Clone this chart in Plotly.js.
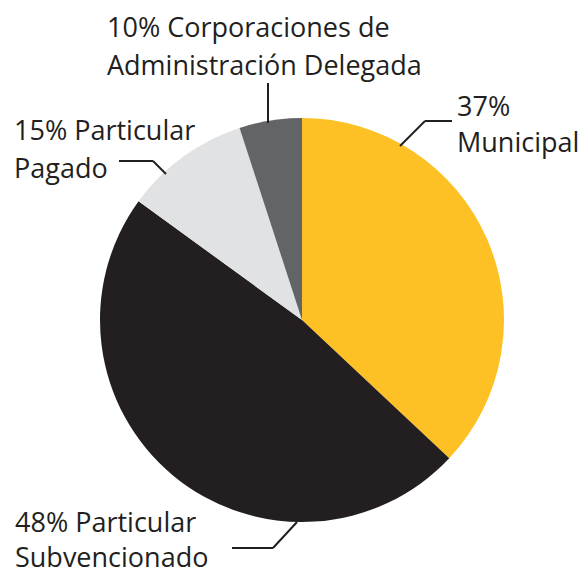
<!DOCTYPE html>
<html><head><meta charset="utf-8">
<script src="https://cdn.plot.ly/plotly-3.0.1.min.js"></script>
<style>html,body{margin:0;padding:0;background:#fff}#c{width:584px;height:574px}</style>
</head><body><div id="c"></div>
<script>
const categories = ["Municipal", "Particular Subvencionado", "Particular Pagado", "Corporaciones de Administración Delegada"];
const values = [37, 48, 10, 5];
const colors = ["#FDC126", "#231F20", "#E1E2E3", "#636466"];
const labelLines = [
  ["37%", "Municipal"],
  ["48% Particular", "Subvencionado"],
  ["15% Particular", "Pagado"],
  ["10% Corporaciones de", "Administración Delegada"]
];

const W = 584, H = 574;
const px = x => x / W, py = y => 1 - y / H;
const txtColor = "#231F20";
const font = {family: "Open Sans", size: 27, color: txtColor, weight: 400};

// label placement: left x and top of each line box (px); box heights
const labelPos = [
  {x: 455, y: [85, 121], h: [35, 37]},
  {x: 13, y: [501, 536], h: [34, 35]},
  {x: 12, y: [109, 147], h: [37, 37]},
  {x: 105, y: [6, 44], h: [37, 37]}
];
const annotations = [];
labelLines.forEach((lines, i) => {
  lines.forEach((t, j) => {
    annotations.push({text: t, xref: "paper", yref: "paper", x: px(labelPos[i].x), y: py(labelPos[i].y[j]),
      xanchor: "left", yanchor: "top", valign: "top", height: labelPos[i].h[j],
      showarrow: false, font: font, align: "left"});
  });
});

const lineStyle = {color: txtColor, width: 2};
const leaders = [
  [[400,146],[425,121],[452,121]],
  [[297,522],[273,548],[232,548]],
  [[166,174],[153,161],[119,161]],
  [[268,123],[268,83]]
];
const shapes = [];
leaders.forEach(pts => {
  for (let k = 0; k < pts.length - 1; k++) {
    shapes.push({type: "line", xref: "paper", yref: "paper",
      x0: px(pts[k][0]), y0: py(pts[k][1]), x1: px(pts[k+1][0]), y1: py(pts[k+1][1]), line: lineStyle});
  }
});

const data = [{
  type: "pie", labels: categories, values: values, sort: false, direction: "clockwise", rotation: 0,
  textinfo: "none", hoverinfo: "none",
  marker: {colors: colors, line: {width: 0}},
  domain: {x: [px(100), px(504)], y: [py(522), py(118)]}
}];
const layout = {
  width: W, height: H, margin: {l: 0, r: 0, t: 0, b: 0}, showlegend: false,
  paper_bgcolor: "#fff", annotations: annotations, shapes: shapes
};
Plotly.newPlot("c", data, layout, {displayModeBar: false, staticPlot: true});
</script></body></html>
